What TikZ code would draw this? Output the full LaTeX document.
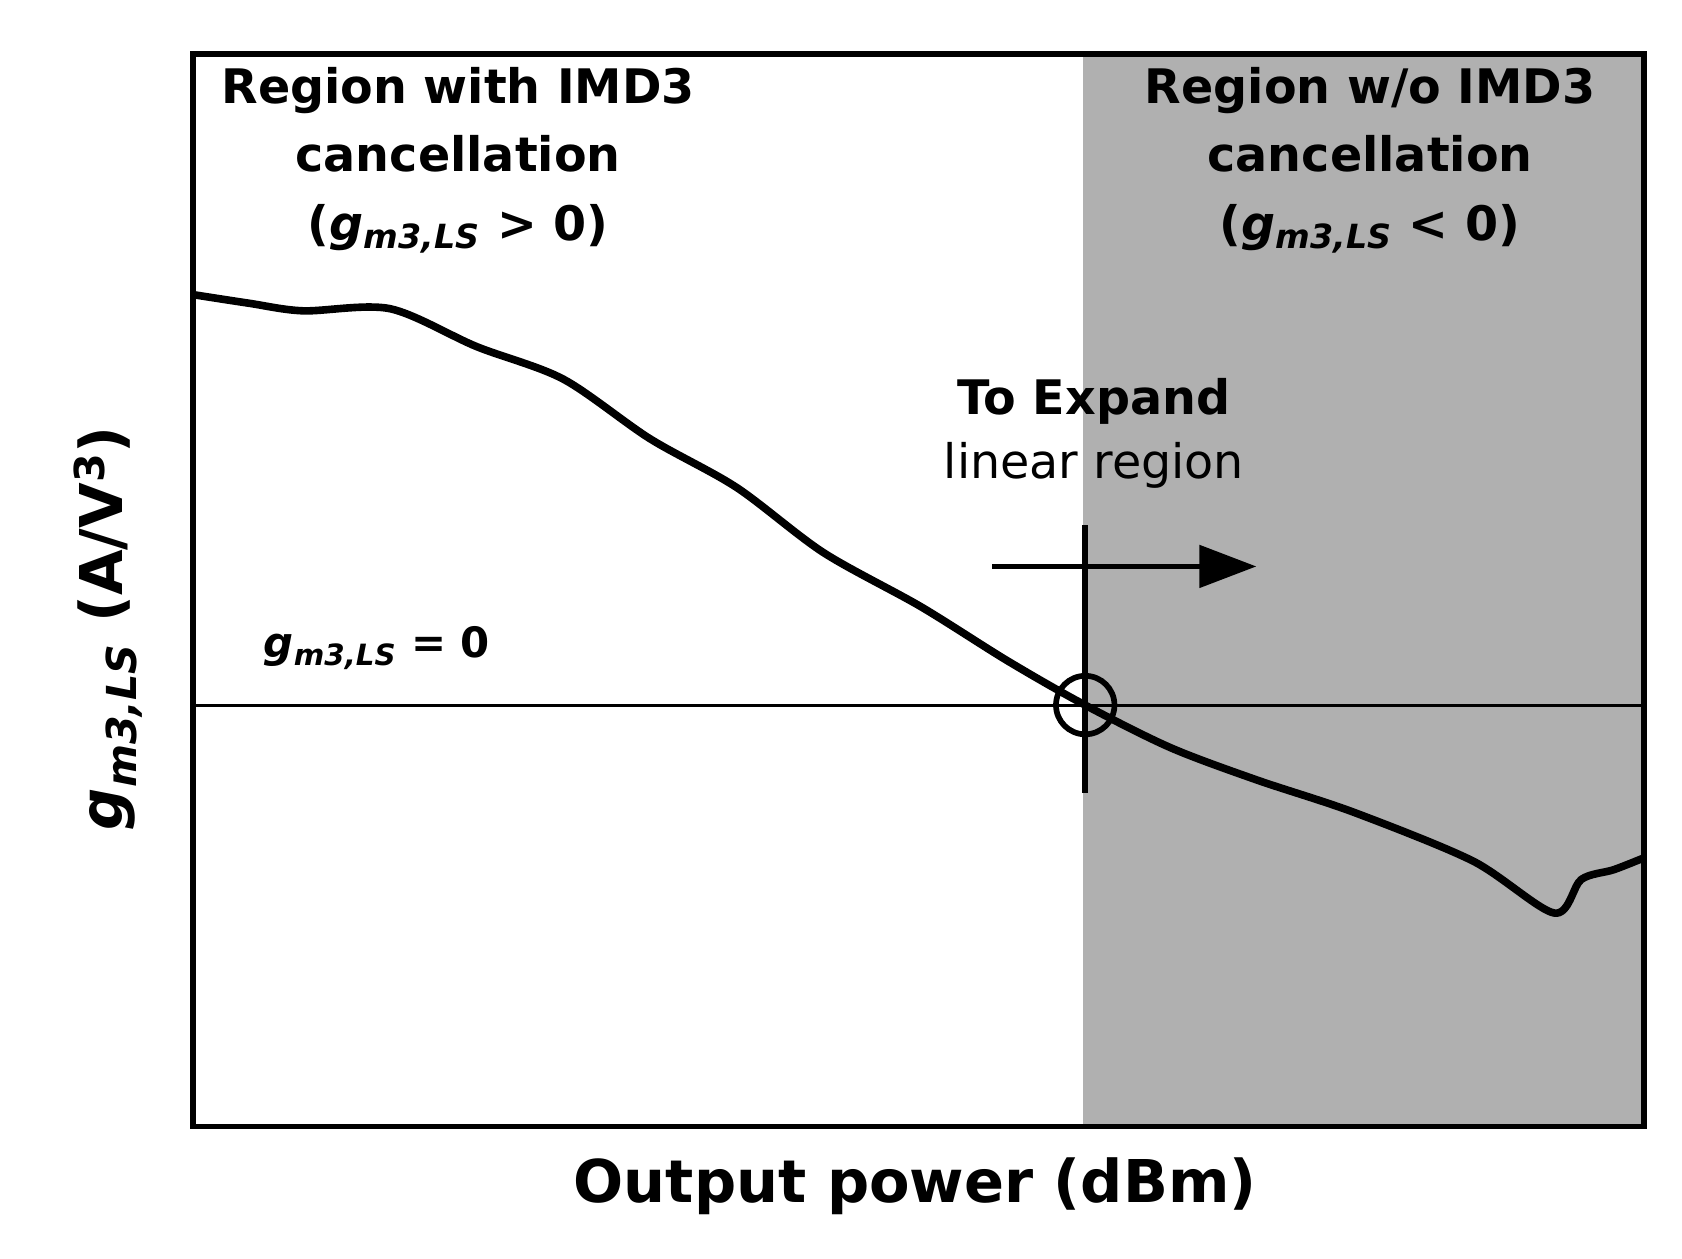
\documentclass[tikz,border=0pt]{standalone}
\usepackage{fontspec}
\setmainfont{DejaVu Sans}
\usetikzlibrary{arrows.meta}
\newcommand{\gmls}{\textit{g}\textsubscript{\textit{m3,LS}}}
\begin{document}
\begin{tikzpicture}[x=0.02cm,y=-0.02cm,
  lbl/.style={font=\bfseries\fontsize{25}{36}\selectfont,align=center},
  curve/.style={line width=4pt,line join=round}]
\useasboundingbox (0,0) rectangle (1553,1162);
\fill[gray!62] (1000,50) rectangle (1518,1040);
\draw[line width=1.6pt] (178,651) -- (1518,651);
\draw[curve] plot[smooth,tension=0.5] coordinates {(178,272) (230,280) (280,287) (360,285) (440,320) (520,350) (600,405) (680,450) (760,510) (850,560) (930,610) (1000,650) (1080,690) (1160,720) (1250,750) (1360,795) (1435,843) (1460,812) (1490,803) (1518,792)};
\draw[line width=3pt] (1002,485) -- (1002,732);
\draw[line width=3pt] (1002,651) circle (27);
\draw[line width=3pt,-{Triangle[length=30pt,width=22pt]}] (916,523) -- (1160,523);
\draw[line width=3pt] (178,50) rectangle (1518,1040);
\node[lbl] (t1) at (423,148) {Region with IMD3\\cancellation\\(\gmls{} > 0)};
\node[lbl] (t2) at (1265,148) {Region w/o IMD3\\cancellation\\(\gmls{} < 0)};
\node[font=\fontsize{25}{34}\selectfont,align=center] (t3) at (1010,400) {\textbf{To Expand}\\linear region};
\node[font=\bfseries\fontsize{22}{26}\selectfont] (t4) at (348,598) {\gmls{} = 0};
\node[font=\bfseries\fontsize{31}{36}\selectfont] (xl) at (845,1095) {Output power (dBm)};
\node[font=\bfseries\fontsize{31}{36}\selectfont,rotate=90] (yl) at (100,580) {\textit{g}\textsubscript{\textit{m3,LS}} (A/V\textsuperscript{3})};
\end{tikzpicture}
\end{document}
